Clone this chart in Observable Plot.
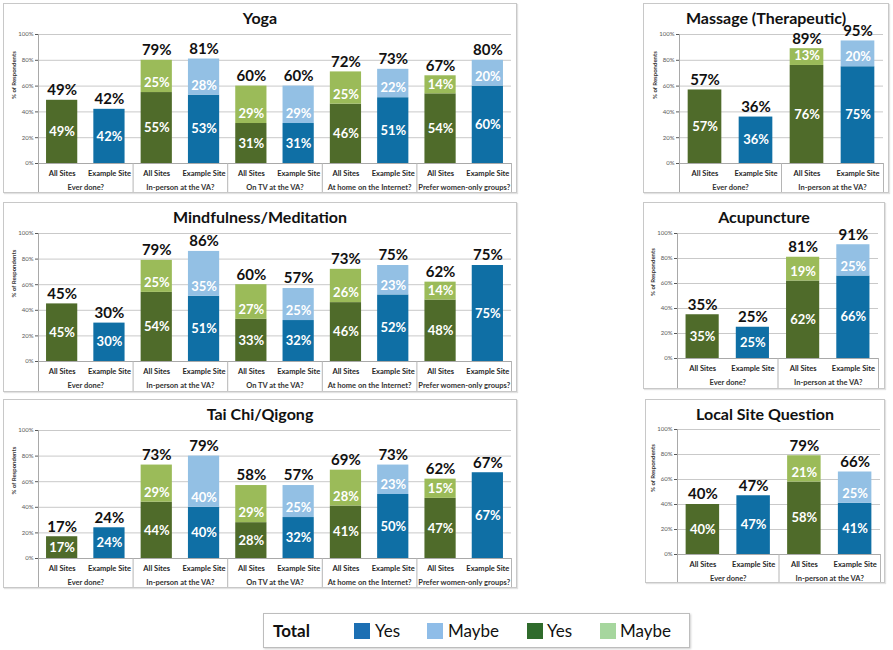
<!DOCTYPE html>
<html><head><meta charset="utf-8">
<script src="https://cdn.jsdelivr.net/npm/d3@7"></script>
<script src="https://cdn.jsdelivr.net/npm/@observablehq/plot@0.6"></script>
<style>
body{margin:0;background:#fff;font-family:Lato,"Open Sans",sans-serif;}
#root{position:relative;width:893px;height:650px;overflow:hidden;background:#fff;}
.panel{position:absolute;box-sizing:border-box;border:1px solid #c8c8c8;background:#fff;box-shadow:1px 1px 1px #e2e2e2;}
.ptitle{margin-top:3px;height:22px;line-height:22px;text-align:center;font-weight:bold;font-size:16px;color:#111;white-space:nowrap;}
.panel svg{display:block;overflow:visible;}
#legend{position:absolute;left:263px;top:613px;width:427px;height:35px;box-sizing:border-box;border:1px solid #bdbdbd;box-shadow:1px 1px 2px #cfcfcf;background:#fff;font-size:17px;color:#111;}
#legend span{position:absolute;top:0;line-height:33px;white-space:nowrap;}
#legend i{position:absolute;top:9px;width:16px;height:16px;display:block;}
</style></head><body><div id="root"></div>
<script>
// ---------- data ----------
const sites = ["All Sites", "Example Site"];
const questionsFive = ["Ever done?", "In-person at the VA?", "On TV at the VA?", "At home on the Internet?", "Prefer women-only groups?"];
const questionsTwo = ["Ever done?", "In-person at the VA?"];
const panelTitles = ["Yoga", "Mindfulness/Meditation", "Tai Chi/Qigong", "Massage (Therapeutic)", "Acupuncture", "Local Site Question"];

const yogaAllYes = [49, 55, 31, 46, 54];
const yogaAllMaybe = [null, 25, 29, 25, 14];
const yogaAllTotal = [49, 79, 60, 72, 67];
const yogaExYes = [42, 53, 31, 51, 60];
const yogaExMaybe = [null, 28, 29, 22, 20];
const yogaExTotal = [42, 81, 60, 73, 80];

const mindAllYes = [45, 54, 33, 46, 48];
const mindAllMaybe = [null, 25, 27, 26, 14];
const mindAllTotal = [45, 79, 60, 73, 62];
const mindExYes = [30, 51, 32, 52, 75];
const mindExMaybe = [null, 35, 25, 23, null];
const mindExTotal = [30, 86, 57, 75, 75];

const taiAllYes = [17, 44, 28, 41, 47];
const taiAllMaybe = [null, 29, 29, 28, 15];
const taiAllTotal = [17, 73, 58, 69, 62];
const taiExYes = [24, 40, 32, 50, 67];
const taiExMaybe = [null, 40, 25, 23, null];
const taiExTotal = [24, 79, 57, 73, 67];

const massAllYes = [57, 76];
const massAllMaybe = [null, 13];
const massAllTotal = [57, 89];
const massExYes = [36, 75];
const massExMaybe = [null, 20];
const massExTotal = [36, 95];

const acuAllYes = [35, 62];
const acuAllMaybe = [null, 19];
const acuAllTotal = [35, 81];
const acuExYes = [25, 66];
const acuExMaybe = [null, 25];
const acuExTotal = [25, 91];

const localAllYes = [40, 58];
const localAllMaybe = [null, 21];
const localAllTotal = [40, 79];
const localExYes = [47, 41];
const localExMaybe = [null, 25];
const localExTotal = [47, 66];

const yTicksPct = [0, 20, 40, 60, 80, 100];
const yAxisTitle = "% of Respondents";
const legendTitle = "Total";
const legendLabels = ["Yes", "Maybe", "Yes", "Maybe"];

// ---------- styles / layout ----------
const FONT = 'Lato, "Open Sans", sans-serif';
const GREEN = "#4f6b2a", LGREEN = "#9bbb59", BLUE = "#0f6fa5", LBLUE = "#93c0e4";
const legendColors = ["#1c6fb3", "#8fbde8", "#2f6b2c", "#a6d69e"];
const legendPos = [[90, 111], [163, 184], [263, 283], [336, 356]];
const HW = 0.165;

const panels = [
  {title: panelTitles[0], q: questionsFive, aY: yogaAllYes, aM: yogaAllMaybe, aT: yogaAllTotal, eY: yogaExYes, eM: yogaExMaybe, eT: yogaExTotal},
  {title: panelTitles[1], q: questionsFive, aY: mindAllYes, aM: mindAllMaybe, aT: mindAllTotal, eY: mindExYes, eM: mindExMaybe, eT: mindExTotal},
  {title: panelTitles[2], q: questionsFive, aY: taiAllYes, aM: taiAllMaybe, aT: taiAllTotal, eY: taiExYes, eM: taiExMaybe, eT: taiExTotal},
  {title: panelTitles[3], q: questionsTwo, aY: massAllYes, aM: massAllMaybe, aT: massAllTotal, eY: massExYes, eM: massExMaybe, eT: massExTotal},
  {title: panelTitles[4], q: questionsTwo, aY: acuAllYes, aM: acuAllMaybe, aT: acuAllTotal, eY: acuExYes, eM: acuExMaybe, eT: acuExTotal},
  {title: panelTitles[5], q: questionsTwo, aY: localAllYes, aM: localAllMaybe, aT: localAllTotal, eY: localExYes, eM: localExMaybe, eT: localExTotal}
];
const layout = [
  {left: 3, top: 3, w: 514, h: 190, px0: 35, px1: 508, py0: 31, py1: 160},
  {left: 3, top: 202, w: 514, h: 190, px0: 35, px1: 508, py0: 31, py1: 159},
  {left: 3, top: 399, w: 514, h: 189, px0: 35, px1: 508, py0: 31, py1: 159},
  {left: 643, top: 3, w: 246, h: 190, px0: 36, px1: 240, py0: 31, py1: 160},
  {left: 643, top: 202, w: 242, h: 187, px0: 34, px1: 235, py0: 31, py1: 156},
  {left: 645, top: 399, w: 240, h: 184, px0: 32, px1: 235, py0: 30, py1: 155}
];

const root = document.getElementById("root");

function drawPanel(p, L) {
  const div = document.createElement("div");
  div.className = "panel";
  Object.assign(div.style, {left: L.left + "px", top: L.top + "px", width: L.w + "px", height: L.h + "px"});
  const t = document.createElement("div");
  t.className = "ptitle";
  t.textContent = p.title;
  div.appendChild(t);

  const n = p.q.length;
  const svgTop = 26;
  const W = L.w - 2, H = L.h - 1 - svgTop;
  const mt = L.py0 - svgTop, mb = (L.h - 1) - L.py1, ml = L.px0 - 1, mr = (L.w - 1) - L.px1;
  const ext = -mb * 100 / (L.py1 - L.py0);

  const segs = [], yesLabels = [], maybeLabels = [], totals = [], cats = [];
  p.q.forEach((q, i) => {
    [0, 1].forEach(s => {
      const yes = s ? p.eY[i] : p.aY[i];
      const maybe = s ? p.eM[i] : p.aM[i];
      const total = s ? p.eT[i] : p.aT[i];
      const pos = i + 0.25 + 0.5 * s;
      segs.push({pos, y1: 0, y2: yes, fill: s ? BLUE : GREEN});
      yesLabels.push({pos, y: yes / 2, text: yes + "%"});
      if (maybe != null) {
        segs.push({pos, y1: yes, y2: yes + maybe, fill: s ? LBLUE : LGREEN});
        maybeLabels.push({pos, y: yes, text: maybe + "%"});
      }
      totals.push({pos, y: yes + (maybe ?? 0), text: total + "%"});
      cats.push({pos, text: sites[s]});
    });
  });
  const groups = p.q.map((q, i) => ({pos: i + 0.5, text: q}));
  const seps = d3.range(1, n + 1);

  const chart = Plot.plot({
    width: W, height: H,
    marginTop: mt, marginBottom: mb, marginLeft: ml, marginRight: mr,
    style: {fontFamily: FONT, fontSize: "6px", color: "#595959", overflow: "visible", background: "transparent"},
    x: {domain: [0, n], axis: null},
    y: {domain: [0, 100], ticks: 5, tickFormat: d => d + "%", tickSize: 3, tickPadding: 2, label: null},
    color: {type: "identity"},
    marks: [
      Plot.ruleY(yTicksPct, {y: d => d, x1: () => 0, x2: () => n, stroke: "#c9c9c9"}),
      Plot.rect(segs, {x1: d => d.pos - HW, x2: d => d.pos + HW, y1: "y1", y2: "y2", fill: "fill"}),
      Plot.ruleY([0], {y: d => d, x1: () => 0, x2: () => n, stroke: "#a9a9a9"}),
      Plot.ruleX([0], {x: d => d, y1: () => 100, y2: () => ext, stroke: "#a9a9a9"}),
      Plot.ruleX(seps, {x: d => d, y1: () => 0, y2: () => ext, stroke: "#b5b5b5"}),
      Plot.text(yesLabels, {x: "pos", y: "y", text: "text", fill: "white", fontSize: 13, fontWeight: "bold"}),
      Plot.text(maybeLabels, {x: "pos", y: "y", text: "text", dy: -9.5, fill: "white", fontSize: 13, fontWeight: "bold"}),
      Plot.text(totals, {x: "pos", y: "y", text: "text", dy: -10, fill: "#111", fontSize: 15, fontWeight: "bold"}),
      Plot.text(cats, {x: "pos", y: () => 0, text: "text", dy: 10, fill: "#262626", fontSize: 7.5, fontWeight: "bold"}),
      Plot.text(groups, {x: "pos", y: () => 0, text: "text", dy: 24, fill: "#333", fontSize: 7.5, fontWeight: "bold"}),
      Plot.text([yAxisTitle], {frameAnchor: "left", text: d => d, rotate: -90, dx: -24, fill: "#333", fontSize: 6, fontWeight: "bold"})
    ]
  });
  div.appendChild(chart);
  root.appendChild(div);
}

panels.forEach((p, k) => drawPanel(p, layout[k]));

// legend
const lg = document.createElement("div");
lg.id = "legend";
const tt = document.createElement("span");
tt.textContent = legendTitle;
tt.style.left = "9px";
tt.style.fontWeight = "bold";
lg.appendChild(tt);
legendLabels.forEach((lab, k) => {
  const sw = document.createElement("i");
  sw.style.left = legendPos[k][0] + "px";
  sw.style.background = legendColors[k];
  lg.appendChild(sw);
  const s = document.createElement("span");
  s.textContent = lab;
  s.style.left = legendPos[k][1] + "px";
  lg.appendChild(s);
});
root.appendChild(lg);
</script></body></html>
